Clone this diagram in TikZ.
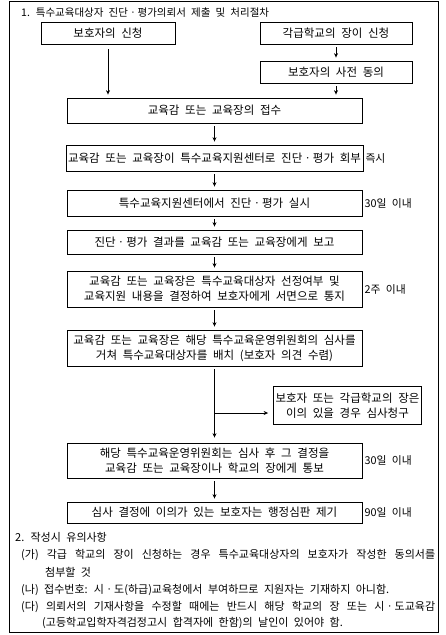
\documentclass[tikz,border=0pt]{standalone}
\usepackage{fontspec}
\setmainfont{Noto Sans CJK KR}[WordSpace=2.2]
\usetikzlibrary{arrows.meta,positioning}

\begin{document}
\begin{tikzpicture}[
    x=1pt, y=-1pt,
    box/.style={draw, line width=0.8pt, minimum width=295pt, minimum height=25pt, inner sep=2pt, align=center, font=\fontsize{11.5}{15}\selectfont},
    arrow/.style={-{Stealth[length=4.5pt, width=4pt]}, line width=0.7pt, shorten <=3pt, shorten >=3pt},
    due/.style={inner sep=1pt, font=\fontsize{10.8}{13}\selectfont},
    note/.style={anchor=west, inner sep=0pt, font=\fontsize{11}{13}\selectfont}
]
\useasboundingbox (0,0) rectangle (446,635);
\draw[line width=0.8pt] (9,1) rectangle (438,632);

% Title
\node[note, font=\fontsize{10.5}{13}\selectfont] (title) at (21,13) {1. 특수교육대상자 진단ㆍ평가의뢰서 제출 및 처리절차};

% Application
\node[box, minimum width=134pt, minimum height=22pt] (parent) at (108,33) {보호자의 신청};
\node[box, minimum width=152pt, minimum height=22pt] (school) at (336,33) {각급학교의 장이 신청};
\node[box, minimum width=152pt, minimum height=22pt] (consent) at (336,72) {보호자의 사전 동의};

% Main procedure
\node[box] (receive) at (214.5,110.5) {교육감 또는 교육장의 접수};
\node[box, minimum height=26pt] (refer) at (214.5,158) {교육감 또는 교육장이 특수교육지원센터로 진단ㆍ평가 회부};
\node[box, minimum height=26pt] (exam) at (214.5,203) {특수교육지원센터에서 진단ㆍ평가 실시};
\node[box, minimum height=24pt] (report) at (214.5,242) {진단ㆍ평가 결과를 교육감 또는 교육장에게 보고};
\node[box, minimum height=36pt] (decide) at (214.5,289) {교육감 또는 교육장은 특수교육대상자 선정여부 및\\교육지원 내용을 결정하여 보호자에게 서면으로 통지};
\node[box, minimum height=36pt] (place) at (214.5,348) {교육감 또는 교육장은 해당 특수교육운영위원회의 심사를\\거쳐 특수교육대상자를 배치 (보호자 의견 수렴)};
\node[box, minimum width=147pt, minimum height=38pt] (appeal) at (347.5,405.5) {보호자 또는 각급학교의 장은\\이의 있을 경우 심사청구};
\node[box, minimum height=35pt] (review) at (214.5,460.5) {해당 특수교육운영위원회는 심사 후 그 결정을\\교육감 또는 교육장이나 학교의 장에게 통보};
\node[box, minimum height=21pt] (admin) at (214.5,512.5) {심사 결정에 이의가 있는 보호자는 행정심판 제기};

% Time limits
\node[due, right=1pt of refer] (trefer) {즉시};
\node[due, right=1pt of exam] (texam) {30일 이내};
\node[due, right=1pt of decide] (tdecide) {2주 이내};
\node[due, right=1pt of review] (treview) {30일 이내};
\node[due, right=1pt of admin] (tadmin) {90일 이내};

% Arrows
\coordinate (fork) at (214.5,413);
\draw[arrow, shorten <=5pt] (parent) -- (parent |- receive.north);
\draw[arrow] (school) -- (consent);
\draw[arrow] (consent) -- (consent |- receive.north);
\draw[arrow] (receive) -- (refer);
\draw[arrow] (refer) -- (exam);
\draw[arrow] (exam) -- (report);
\draw[arrow] (report) -- (decide);
\draw[arrow] (decide) -- (place);
\draw[arrow, shorten >=5pt] (place) -- (review);
\draw[arrow, shorten <=0pt, shorten >=5pt] (fork) -- (fork -| appeal.west);
\draw[arrow] (review) -- (admin);

% Notes
\node[note] (notes) at (15,537) {2. 작성시 유의사항};
\node[note] (notea) at (21,555) {\makebox[414pt][s]{(가) 각급 학교의 장이 신청하는 경우 특수교육대상자의 보호자가 작성한 동의서를}};
\node[note] (notea2) at (45,572) {첨부할 것};
\node[note] (noteb) at (21,590) {(나) 접수번호: 시ㆍ도(하급)교육청에서 부여하므로 지원자는 기재하지 아니함.};
\node[note] (notec) at (21,607) {\makebox[414pt][s]{(다) 의뢰서의 기재사항을 수정할 때에는 반드시 해당 학교의 장 또는 시ㆍ도교육감}};
\node[note] (notec2) at (42,623) {(고등학교입학자격검정고시 합격자에 한함)의 날인이 있어야 함.};
\end{tikzpicture}
\end{document}
